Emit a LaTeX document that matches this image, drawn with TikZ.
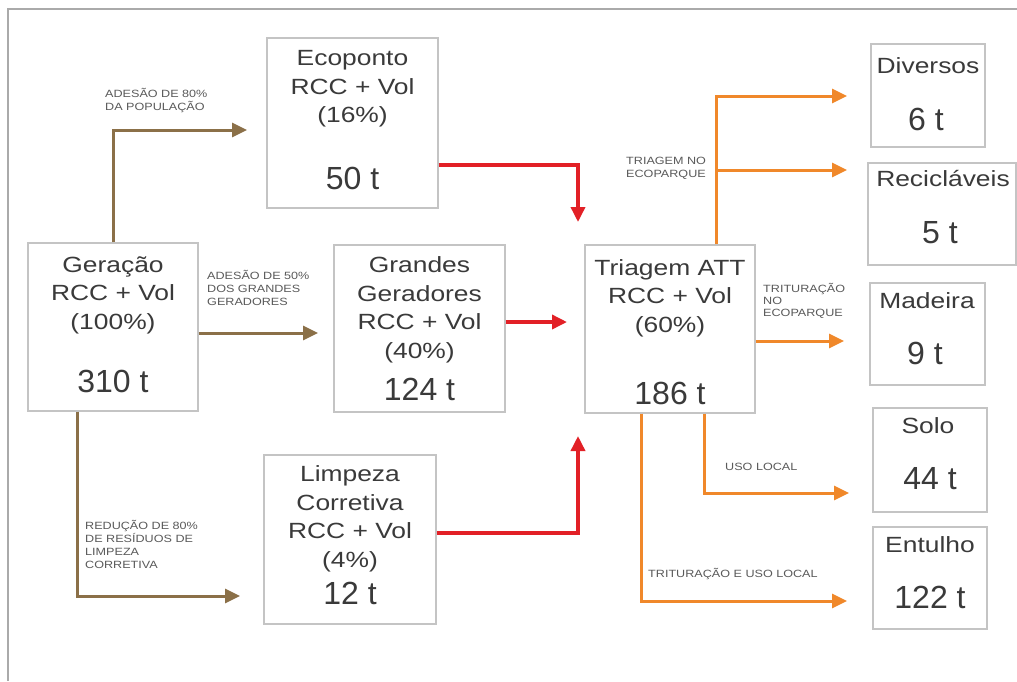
\documentclass[tikz,border=0pt]{standalone}
\usepackage{fontspec}
\setmainfont{Liberation Sans}
\newfontfamily\wfont{Liberation Sans}[FakeStretch=1.2]
\usetikzlibrary{arrows.meta}
\definecolor{brn}{RGB}{139,112,72}
\definecolor{rd}{RGB}{226,32,38}
\definecolor{org}{RGB}{240,136,42}
\definecolor{bxd}{RGB}{196,196,196}
\definecolor{txt}{RGB}{58,58,58}
\definecolor{lbl}{RGB}{90,90,90}
\definecolor{frm}{RGB}{170,170,170}
\begin{document}
\begin{tikzpicture}[x=1pt,y=-1pt,
 box/.style={draw=bxd,line width=1.3pt,fill=white,inner sep=0pt},
 nm/.style={text=txt,align=center,font=\wfont\fontsize{22}{28.5}\selectfont,inner sep=0pt},
 ton/.style={text=txt,font=\fontsize{32}{36}\selectfont,inner sep=0pt},
 lab/.style={text=lbl,align=left,anchor=north west,inner sep=0pt,font=\wfont\fontsize{10.5}{13}\selectfont},
 barr/.style={draw=brn,line width=3pt,-{Triangle[length=15pt,width=14pt]}},
 rarr/.style={draw=rd,line width=3.5pt,-{Triangle[length=15pt,width=14pt]}},
 oarr/.style={draw=org,line width=3pt,-{Triangle[length=15pt,width=14pt]}}
]
\useasboundingbox (0,0) rectangle (1017,681);
\fill[white] (0,0) rectangle (1017,681);
\draw[frm,line width=2pt] (8,681) -- (8,9) -- (1017,9);

% big boxes
\node[box,minimum width=170pt,minimum height=168pt] (ger) at (113,327) {};
\node[box,minimum width=171pt,minimum height=170pt] (eco) at (352.5,123) {};
\node[box,minimum width=171pt,minimum height=167pt] (gra) at (419.5,328.5) {};
\node[box,minimum width=170pt,minimum height=168pt] (tri) at (670,329) {};
\node[box,minimum width=172pt,minimum height=169pt] (lim) at (350,539.5) {};

\node[nm] (gerA) at (113,295) {Geração\\RCC + Vol\\(100\%)};
\node[ton] (gerB) at (113,381) {310 t};
\node[nm] (ecoA) at (352.5,89) {Ecoponto\\RCC + Vol\\(16\%)};
\node[ton] (ecoB) at (352.5,178) {50 t};
\node[nm] (graA) at (419.5,310) {Grandes\\Geradores\\RCC + Vol\\(40\%)};
\node[ton] (graB) at (419.5,389) {124 t};
\node[nm] (triA) at (670,298) {Triagem ATT\\RCC + Vol\\(60\%)};
\node[ton] (triB) at (670,393) {186 t};
\node[nm] (limA) at (350,519) {Limpeza\\Corretiva\\RCC + Vol\\(4\%)};
\node[ton] (limB) at (350,593) {12 t};

% small boxes
\node[box,minimum width=114pt,minimum height=103pt] (div) at (928,95.5) {};
\node[box,minimum width=148pt,minimum height=102pt] (rec) at (942,214) {};
\node[box,minimum width=115pt,minimum height=102pt] (mad) at (927.5,334) {};
\node[box,minimum width=114pt,minimum height=104pt] (sol) at (930,460) {};
\node[box,minimum width=114pt,minimum height=102pt] (ent) at (930,578) {};

\node[nm] (divA) at (928,66) {Diversos};
\node[ton] (divB) at (926,119) {6 t};
\node[nm] (recA) at (943,179) {Recicláveis};
\node[ton] (recB) at (940,233) {5 t};
\node[nm] (madA) at (927,301) {Madeira};
\node[ton] (madB) at (925,353) {9 t};
\node[nm] (solA) at (928,426) {Solo};
\node[ton] (solB) at (930,479) {44 t};
\node[nm] (entA) at (930,545) {Entulho};
\node[ton] (entB) at (930,597) {122 t};

% brown arrows
\coordinate (a1) at (113,130); \coordinate (a1t) at (247,130);
\draw[barr] (ger.north) -- (a1) -- (a1t);
\coordinate (a2t) at (318,333);
\draw[barr] (ger.east |- a2t) -- (a2t);
\coordinate (a3) at (77,596); \coordinate (a3t) at (240,596);
\draw[barr] (ger.south -| a3) -- (a3) -- (a3t);

% red arrows
\coordinate (r1) at (578,165); \coordinate (r1t) at (578,222);
\draw[rarr] (eco.east |- r1) -- (r1) -- (r1t);
\coordinate (r2t) at (567,322);
\draw[rarr] (gra.east |- r2t) -- (r2t);
\coordinate (r3) at (578,533); \coordinate (r3t) at (578,436);
\draw[rarr] (lim.east |- r3) -- (r3) -- (r3t);

% orange arrows
\coordinate (o1) at (716,96); \coordinate (o1t) at (847,96);
\draw[oarr] (tri.north -| o1) -- (o1) -- (o1t);
\coordinate (o2) at (716,170); \coordinate (o2t) at (847,170);
\draw[oarr] (o2) -- (o2t);
\coordinate (o3t) at (844,341);
\draw[oarr] (tri.east |- o3t) -- (o3t);
\coordinate (o4) at (704,493); \coordinate (o4t) at (849,493);
\draw[oarr] (tri.south -| o4) -- (o4) -- (o4t);
\coordinate (o5) at (641,601); \coordinate (o5t) at (847,601);
\draw[oarr] (tri.south -| o5) -- (o5) -- (o5t);

% labels
\node[lab] (l1) at (105,88) {ADESÃO DE 80\%\\DA POPULAÇÃO};
\node[lab] (l2) at (207,270) {ADESÃO DE 50\%\\DOS GRANDES\\GERADORES};
\node[lab] (l3) at (85,520) {REDUÇÃO DE 80\%\\DE RESÍDUOS DE\\LIMPEZA\\CORRETIVA};
\node[lab] (l4) at (626,157) {TRIAGEM NO\\ECOPARQUE};
\node[lab,font=\wfont\fontsize{10.5}{12}\selectfont] (l5) at (763,283) {TRITURAÇÃO\\NO\\ECOPARQUE};
\node[lab] (l6) at (725,463) {USO LOCAL};
\node[lab] (l7) at (648,568) {TRITURAÇÃO E USO LOCAL};
\end{tikzpicture}
\end{document}
